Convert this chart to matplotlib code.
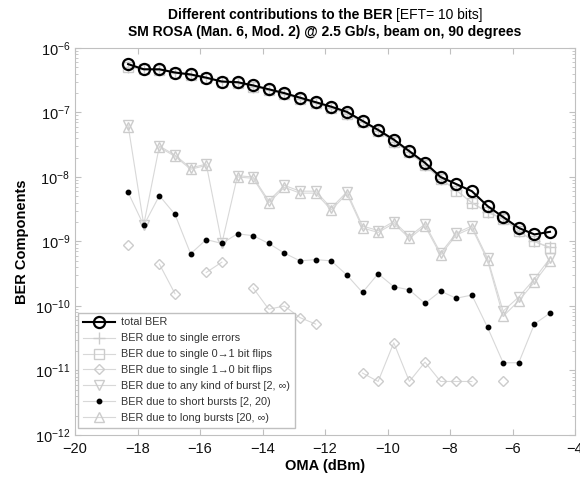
import numpy as np
import matplotlib
matplotlib.use("Agg")
from matplotlib import pyplot as plt

plt.rcParams['font.family'] = ['Liberation Sans', 'DejaVu Sans']

# OMA points (dBm)
oma = [-18.3, -17.8, -17.3, -16.8, -16.3, -15.8, -15.3, -14.8, -14.3, -13.8,
       -13.3, -12.8, -12.3, -11.8, -11.3, -10.8, -10.3, -9.8, -9.3, -8.8,
       -8.3, -7.8, -7.3, -6.8, -6.3, -5.8, -5.3, -4.8]

nan = np.nan
# log10 of the BER values
total_log = [-6.25, -6.33, -6.33, -6.38, -6.41, -6.46, -6.52, -6.53, -6.58, -6.64,
             -6.70, -6.77, -6.84, -6.91, -6.99, -7.13, -7.27, -7.42, -7.60, -7.78,
             -8.00, -8.11, -8.22, -8.45, -8.62, -8.79, -8.89, -8.85]
single_log = [-6.30, -6.33, -6.34, -6.39, -6.42, -6.47, -6.52, -6.55, -6.60, -6.65,
              -6.72, -6.79, -6.86, -6.93, -7.02, -7.15, -7.29, -7.45, -7.62, -7.82,
              -8.03, -8.20, -8.40, -8.54, -8.64, -8.84, -9.00, -9.09]
flip01_log = [-6.30, -6.33, -6.34, -6.39, -6.42, -6.47, -6.53, -6.55, -6.60, -6.65,
              -6.72, -6.79, -6.86, -6.93, -7.02, -7.15, -7.29, -7.45, -7.62, -7.82,
              -8.03, -8.21, -8.40, -8.55, -8.65, -8.84, -9.00, -9.10]
flip10_log = [-9.05, nan, -9.35, -9.81, nan, -9.48, -9.32, nan, -9.72, -10.05,
              -10.00, -10.18, -10.28, nan, nan, -11.04, -11.17, -10.57, -11.17, -10.87,
              -11.17, -11.17, -11.17, nan, -11.17, nan, nan, nan]
burst_log = [-7.20, -8.74, -7.52, -7.66, -7.86, -7.80, -9.03, -7.98, -8.00, -8.37,
             -8.13, -8.22, -8.22, -8.48, -8.23, -8.76, -8.83, -8.69, -8.92, -8.73,
             -9.18, -8.87, -8.76, -9.26, -10.08, -9.86, -9.58, -9.26]
short_log = [-8.24, -8.75, -8.29, -8.58, -9.19, -8.97, -9.03, -8.88, -8.91, -9.03,
             -9.18, -9.30, -9.28, -9.30, -9.52, -9.79, -9.50, -9.70, -9.75, -9.96,
             -9.77, -9.88, -9.83, -10.33, -10.88, -10.88, -10.28, -10.11]
long_log = [-7.22, nan, -7.54, -7.68, -7.88, -7.82, nan, -8.00, -8.02, -8.40,
            -8.16, -8.25, -8.25, -8.51, -8.26, -8.79, -8.86, -8.72, -8.95, -8.76,
            -9.21, -8.90, -8.79, -9.29, -10.16, -9.92, -9.63, -9.31]

labels = ['total BER',
          'BER due to single errors',
          'BER due to single 0\u21921 bit flips',
          'BER due to single 1\u21920 bit flips',
          'BER due to any kind of burst [2, \u221e)',
          'BER due to short bursts [2, 20)',
          'BER due to long bursts [20, \u221e)']

gray = '#d8d8d8'
mgray = '#cccccc'


def ber(v):
    return 10.0 ** np.array(v, dtype=float)


fig = plt.figure(figsize=(5.8, 4.78), dpi=100)
ax = fig.add_axes([75 / 580, 43 / 478, 500 / 580, 387 / 478])

h_single, = ax.plot(oma, ber(single_log), '+-', color=gray, mec=mgray, ms=8, lw=0.8, mfc='none')
h_01, = ax.plot(oma, ber(flip01_log), 's-', color=gray, mec=mgray, ms=7, lw=0.8, mfc='none')
h_10, = ax.plot(oma, ber(flip10_log), 'D-', color=gray, mec=mgray, ms=5.5, lw=0.8, mfc='none')
h_burst, = ax.plot(oma, ber(burst_log), 'v-', color=gray, mec=mgray, ms=7, lw=0.8, mfc='none')
h_short, = ax.plot(oma, ber(short_log), 'o-', color=gray, mec='black', mfc='black', ms=3.2, lw=0.8)
h_long, = ax.plot(oma, ber(long_log), '^-', color=gray, mec=mgray, ms=7, lw=0.8, mfc='none')
h_total, = ax.plot(oma, ber(total_log), 'o-', color='black', mfc='none', ms=8, mew=1.6, lw=1.5)

ax.set_yscale('log')
ax.set_xlim(-20, -4)
ax.set_ylim(1e-12, 1e-6)
ax.set_xticks(range(-20, -3, 2))

axcol = '#c0c0c0'
for s in ax.spines.values():
    s.set_color(axcol)
ax.tick_params(which='both', direction='in', top=True, right=True, color=axcol,
               labelcolor='#111111', labelsize=10.5)
ax.tick_params(which='major', length=4)
ax.tick_params(which='minor', length=2)
ax.tick_params(axis='x', pad=5)

ax.set_xlabel('OMA (dBm)', fontsize=10.5, fontweight='bold', labelpad=2)
ax.set_ylabel('BER Components', fontsize=10.5, fontweight='bold', labelpad=4)

leg = ax.legend([h_total, h_single, h_01, h_10, h_burst, h_short, h_long], labels,
                loc='lower left', bbox_to_anchor=(0.006, 0.018), fontsize=7.8,
                fancybox=False, framealpha=1, edgecolor=axcol, handlelength=3.0,
                labelspacing=0.55, borderpad=0.45, handletextpad=0.5, borderaxespad=0)
for t in leg.get_texts():
    t.set_color('#333333')

# title: first line is bold + normal, second line bold
cx = (75 + 575) / 2 / 580
r = fig.canvas.get_renderer()
t1 = fig.text(0, 1 - 15 / 478, 'Different contributions to the BER ', fontsize=10,
              fontweight='bold', ha='left', va='center')
t2 = fig.text(0, 1 - 15 / 478, '[EFT= 10 bits]', fontsize=10, ha='left', va='center')
w1 = t1.get_window_extent(r).width / 580
w2 = t2.get_window_extent(r).width / 580
x0 = cx - (w1 + w2) / 2
t1.set_x(x0)
t2.set_x(x0 + w1)
fig.text(cx, 1 - 32 / 478, 'SM ROSA (Man. 6, Mod. 2) @ 2.5 Gb/s, beam on, 90 degrees',
         fontsize=10, fontweight='bold', ha='center', va='center')

fig.savefig('out.png', dpi=100)
